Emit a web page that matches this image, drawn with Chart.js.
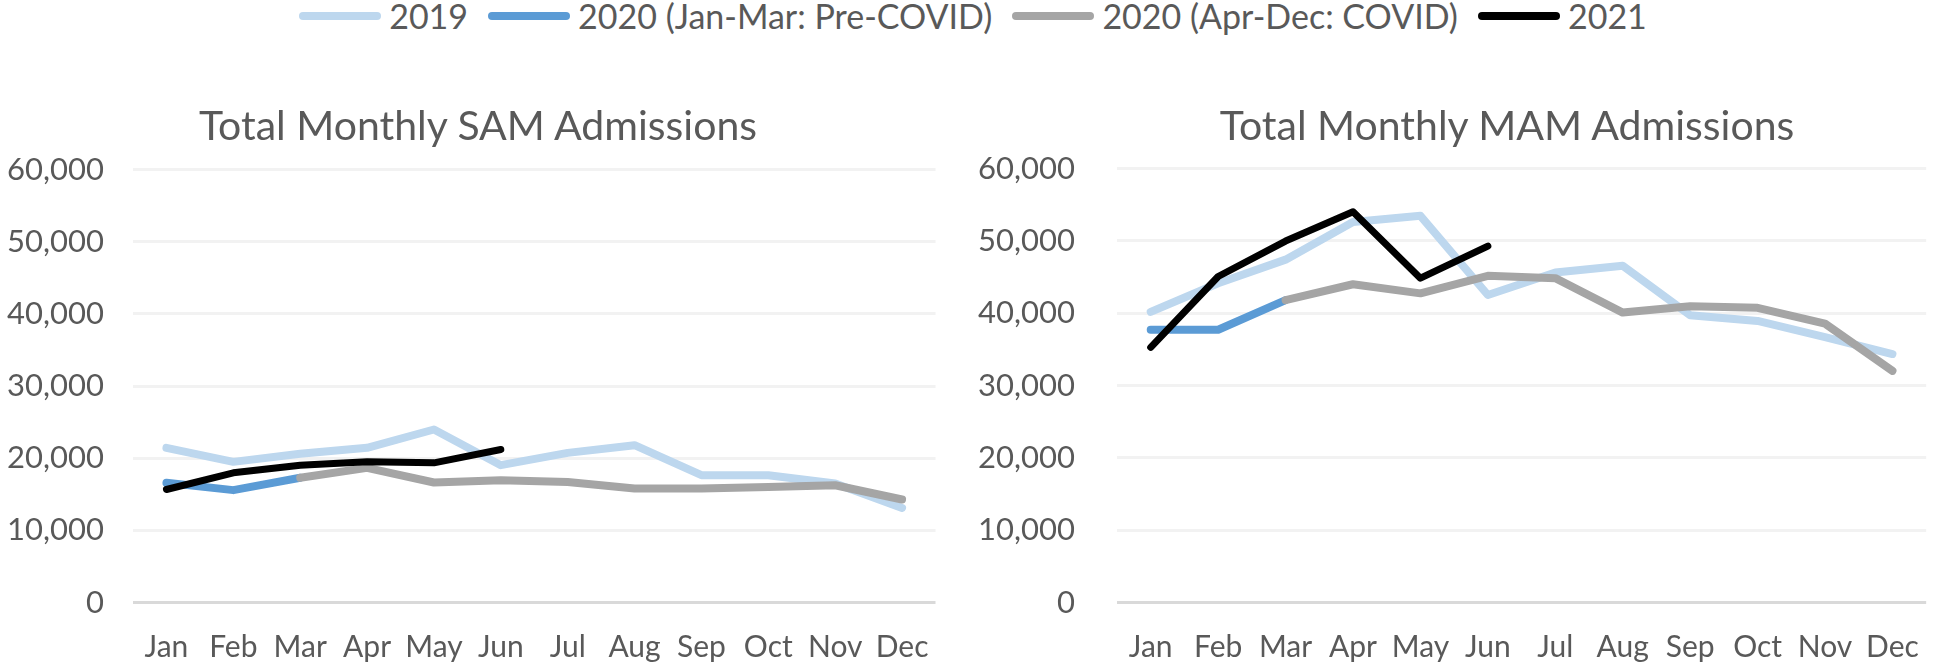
<!DOCTYPE html>
<html>
<head>
<meta charset="utf-8">
<script src="https://cdn.jsdelivr.net/npm/chart.js@4.4.1/dist/chart.umd.min.js"></script>
<style>
  html, body { margin: 0; padding: 0; background: #ffffff; }
  body { width: 1946px; height: 667px; position: relative; overflow: hidden; font-family: Lato, "Open Sans", sans-serif; }
  #legend { position: absolute; left: 0; top: 0; width: 1946px; height: 32px; display: flex; justify-content: center; align-items: center; color: #595959; font-size: 34px; line-height: 1; }
  .item { display: flex; align-items: center; margin: 0 10px; }
  .swatch { width: 82px; height: 8px; border-radius: 4px; margin-right: 8px; }
  .title { position: absolute; top: 104px; height: 41px; font-size: 41px; line-height: 41px; color: #595959; white-space: nowrap; transform: translateX(-50%); }
  #titleL { left: 478px; }
  #titleR { left: 1507px; }
  #wrapL { position: absolute; left: 0; top: 108px; width: 956px; height: 586px; }
  #wrapR { position: absolute; left: 966px; top: 108px; width: 980px; height: 586px; }
</style>
</head>
<body>
<div id="wrapL"><canvas id="samChart"></canvas></div>
<div id="wrapR"><canvas id="mamChart"></canvas></div>
<div id="legend"></div>
<div class="title" id="titleL"></div>
<div class="title" id="titleR"></div>
<script>
const months = ["Jan","Feb","Mar","Apr","May","Jun","Jul","Aug","Sep","Oct","Nov","Dec"];
const seriesNames = ["2019", "2020 (Jan-Mar: Pre-COVID)", "2020 (Apr-Dec: COVID)", "2021"];
const seriesColors = ["#BDD7EE", "#5B9BD5", "#A5A5A5", "#000000"];
const chartTitles = ["Total Monthly SAM Admissions", "Total Monthly MAM Admissions"];
const yTicks = [0, 10000, 20000, 30000, 40000, 50000, 60000];

// Total Monthly SAM Admissions
const sam2019 = [21430, 19490, 20600, 21430, 23970, 19030, 20730, 21800, 17640, 17640, 16490, 13110];
const sam2020Pre = [16580, 15570, 17280, null, null, null, null, null, null, null, null, null];
const sam2020Covid = [null, null, 17280, 18660, 16630, 16950, 16710, 15790, 15790, 16020, 16250, 14270];
const sam2021 = [15660, 17970, 19030, 19490, 19350, 21200, null, null, null, null, null, null];

// Total Monthly MAM Admissions
const mam2019 = [40190, 44150, 47410, 52630, 53470, 42520, 45640, 46570, 39720, 38930, 36690, 34360];
const mam2020Pre = [37720, 37720, 41820, null, null, null, null, null, null, null, null, null];
const mam2020Covid = [null, null, 41820, 44010, 42750, 45180, 44850, 40090, 40980, 40750, 38560, 32030];
const mam2021 = [35290, 45080, 49980, 54030, 44850, 49280, null, null, null, null, null, null];

const TEXT = "#595959";
const FONT = "Lato, 'Open Sans', sans-serif";

// HTML legend shared by both charts
const legendEl = document.getElementById("legend");
seriesNames.forEach((name, i) => {
  const item = document.createElement("div");
  item.className = "item";
  const sw = document.createElement("div");
  sw.className = "swatch";
  sw.style.background = seriesColors[i];
  const tx = document.createElement("span");
  tx.textContent = name;
  item.appendChild(sw);
  item.appendChild(tx);
  legendEl.appendChild(item);
});
document.getElementById("titleL").textContent = chartTitles[0];
document.getElementById("titleR").textContent = chartTitles[1];

function makeDatasets(a, b, c, d) {
  const data = [a, b, c, d];
  const widths = [8, 8, 8, 7];
  const orders = [3, 2, 1, 0];
  return data.map((vals, i) => ({
    label: seriesNames[i],
    data: vals,
    borderColor: seriesColors[i],
    backgroundColor: seriesColors[i],
    borderWidth: widths[i],
    borderCapStyle: "round",
    borderJoinStyle: "round",
    pointRadius: 0,
    pointHoverRadius: 0,
    tension: 0,
    fill: false,
    spanGaps: false,
    order: orders[i]
  }));
}

function makeChart(id, datasets, cfg) {
  const chart = new Chart(document.getElementById(id), {
    type: "line",
    data: { labels: months, datasets: datasets },
    options: {
      responsive: true,
      maintainAspectRatio: false,
      animation: false,
      layout: { padding: { left: 0, right: cfg.padRight, top: 20, bottom: 0 } },
      plugins: {
        legend: { display: false },
        tooltip: { enabled: false },
        title: { display: false }
      },
      scales: {
        x: {
          type: "category",
          offset: true,
          grid: { display: false, drawTicks: false },
          border: { display: false },
          ticks: { color: TEXT, font: { family: FONT, size: 30, lineHeight: 1.2 }, padding: 27, maxRotation: 0, autoSkip: false }
        },
        y: {
          min: 0,
          max: 60000,
          afterBuildTicks: (scale) => { scale.ticks = yTicks.map(v => ({ value: v })); },
          afterFit: (scale) => { scale.width = cfg.axisWidth; },
          grid: {
            drawTicks: false,
            lineWidth: 3,
            color: (ctx) => (ctx.tick && ctx.tick.value === 0) ? "#D9D9D9" : "#F2F2F2"
          },
          border: { display: false },
          ticks: {
            color: TEXT,
            font: { family: FONT, size: 31, lineHeight: 1.2 },
            padding: cfg.tickPad,
            callback: (v) => Number(v).toLocaleString("en-US")
          }
        }
      }
    }
  });
  // pin the plot area's top and bottom edges (canvas-relative pixels)
  for (let k = 0; k < 4; k++) {
    const a = chart.chartArea;
    const p = chart.options.layout.padding;
    p.top += cfg.plotTop - a.top;
    p.bottom += a.bottom - cfg.plotBottom;
    chart.update();
  }
  return chart;
}

// wrappers start at y=108; plot top/bottom in canvas coordinates
makeChart("samChart",
  makeDatasets(sam2019, sam2020Pre, sam2020Covid, sam2021),
  { padRight: 13, axisWidth: 133, tickPad: 29, plotTop: 169.5 - 108, plotBottom: 602.5 - 108 });

makeChart("mamChart",
  makeDatasets(mam2019, mam2020Pre, mam2020Covid, mam2021),
  { padRight: 3, axisWidth: 151, tickPad: 42, plotTop: 173 - 108, plotBottom: 602.5 - 108 });
</script>
</body>
</html>
